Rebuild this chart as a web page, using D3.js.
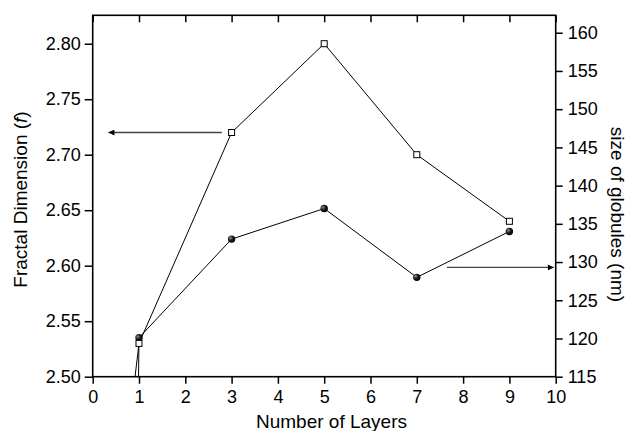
<!DOCTYPE html>
<html>
<head>
<meta charset="utf-8">
<script src="https://cdn.jsdelivr.net/npm/d3@7/dist/d3.min.js"></script>
<style>
  body { margin: 0; background: #fff; }
  text { font-family: "Liberation Sans", Arial, sans-serif; fill: #000; }
</style>
</head>
<body>
<svg width="626" height="431"></svg>
<script>
// first point of each series sits below the axis, only its clipped line shows
var fdLayers = [0.9, 1, 3, 5, 7, 9];
var fractalDim = [2.495, 2.53, 2.72, 2.80, 2.70, 2.64];
var sizeLayers = [0.98, 1, 3, 5, 7, 9];
var globuleSize = [110, 120.1, 133.0, 137.0, 128.0, 134.0];

var xTicks = [0, 1, 2, 3, 4, 5, 6, 7, 8, 9, 10];
var leftTicks = [2.50, 2.55, 2.60, 2.65, 2.70, 2.75, 2.80];
var rightTicks = [115, 120, 125, 130, 135, 140, 145, 150, 155, 160];

// arrows pointing to the axis each series belongs to
var leftArrow = {from: 2.79, to: 0.34, value: 2.72};
var rightArrow = {from: 7.65, to: 9.96, value: 129.3};

var svg = d3.select("svg");

var x = d3.scaleLinear().domain([0, 10]).range([92.7, 555.7]);
var yL = d3.scaleLinear().domain([2.50, 2.8256]).range([376.7, 15.3]);
var yR = d3.scaleLinear().domain([115, 162.28]).range([376.7, 15.3]);

var defs = svg.append("defs");
defs.append("clipPath").attr("id", "plot")
  .append("rect")
    .attr("x", x(0)).attr("y", yL.range()[1])
    .attr("width", x(10) - x(0)).attr("height", yL.range()[0] - yL.range()[1]);

defs.append("marker")
    .attr("id", "head")
    .attr("viewBox", "0 -5 10 10")
    .attr("refX", 10)
    .attr("refY", 0)
    .attr("markerWidth", 11)
    .attr("markerHeight", 6)
    .attr("markerUnits", "userSpaceOnUse")
    .attr("orient", "auto")
  .append("path")
    .attr("d", "M0,-5L10,0L0,5Z")
    .attr("fill", "#000");

var ball = defs.append("radialGradient").attr("id", "ball")
    .attr("cx", "35%").attr("cy", "35%").attr("r", "65%");
ball.append("stop").attr("offset", "0%").attr("stop-color", "#9a9a9a");
ball.append("stop").attr("offset", "45%").attr("stop-color", "#222");
ball.append("stop").attr("offset", "100%").attr("stop-color", "#000");

function minor(ticks) {
  var out = [];
  for (var i = 0; i < ticks.length - 1; i++) out.push((ticks[i] + ticks[i + 1]) / 2);
  return out;
}

// axes
var gBottom = svg.append("g").attr("transform", "translate(0," + yL.range()[0] + ")");
gBottom.call(d3.axisBottom(x).tickValues(minor(xTicks)).tickSize(4).tickFormat(""));
gBottom.call(d3.axisBottom(x).tickValues(xTicks).tickSize(7).tickPadding(7).tickFormat(d3.format("d")));

var gTop = svg.append("g").attr("transform", "translate(0," + yL.range()[1] + ")");
gTop.call(d3.axisBottom(x).tickValues(minor(xTicks)).tickSize(4).tickFormat(""));
gTop.call(d3.axisBottom(x).tickValues(xTicks).tickSize(7).tickFormat(""));

var gLeft = svg.append("g").attr("transform", "translate(" + x(0) + ",0)");
gLeft.call(d3.axisLeft(yL).tickValues(minor(leftTicks).concat([2.825])).tickSize(4).tickFormat(""));
gLeft.call(d3.axisLeft(yL).tickValues(leftTicks).tickSize(8).tickPadding(4).tickFormat(d3.format(".2f")));

var gRight = svg.append("g").attr("transform", "translate(" + x(10) + ",0)");
gRight.call(d3.axisRight(yR).tickValues(minor(rightTicks)).tickSize(5).tickFormat(""));
gRight.call(d3.axisRight(yR).tickValues(rightTicks).tickSize(7).tickPadding(5).tickFormat(d3.format("d")));

svg.selectAll(".domain").remove();
svg.selectAll(".tick line").attr("stroke", "#000").attr("stroke-width", 1.5);
svg.selectAll(".tick text").attr("font-size", 18);
svg.selectAll(".tick").attr("font-size", null).attr("font-family", null);

svg.append("rect")
    .attr("x", x(0)).attr("y", yL.range()[1])
    .attr("width", x(10) - x(0)).attr("height", yL.range()[0] - yL.range()[1])
    .attr("fill", "none").attr("stroke", "#000").attr("stroke-width", 1.6);

// series
var fdData = fdLayers.map(function(d, i) { return {x: d, y: fractalDim[i]}; });
var sizeData = sizeLayers.map(function(d, i) { return {x: d, y: globuleSize[i]}; });

var lines = svg.append("g").attr("clip-path", "url(#plot)");
lines.append("path")
    .datum(fdData)
    .attr("fill", "none").attr("stroke", "#000").attr("stroke-width", 1)
    .attr("d", d3.line().x(function(d) { return x(d.x); }).y(function(d) { return yL(d.y); }));
lines.append("path")
    .datum(sizeData)
    .attr("fill", "none").attr("stroke", "#000").attr("stroke-width", 1)
    .attr("d", d3.line().x(function(d) { return x(d.x); }).y(function(d) { return yR(d.y); }));

svg.append("g").selectAll("circle")
    .data(sizeData.filter(function(d) { return d.y >= yR.domain()[0]; }))
  .enter().append("circle")
    .attr("cx", function(d) { return x(d.x); })
    .attr("cy", function(d) { return yR(d.y); })
    .attr("r", 3.7)
    .attr("fill", "url(#ball)");

svg.append("g").selectAll("rect")
    .data(fdData.filter(function(d) { return d.y >= yL.domain()[0]; }))
  .enter().append("rect")
    .attr("x", function(d) { return x(d.x) - 3; })
    .attr("y", function(d) { return yL(d.y) - 3; })
    .attr("width", 6).attr("height", 6)
    .attr("fill", "#fff").attr("stroke", "#000").attr("stroke-width", 1);

// arrows
svg.append("line")
    .attr("x1", x(leftArrow.from)).attr("x2", x(leftArrow.to))
    .attr("y1", yL(leftArrow.value)).attr("y2", yL(leftArrow.value))
    .attr("stroke", "#444").attr("stroke-width", 1.3)
    .attr("marker-end", "url(#head)");
svg.append("line")
    .attr("x1", x(rightArrow.from)).attr("x2", x(rightArrow.to))
    .attr("y1", yR(rightArrow.value)).attr("y2", yR(rightArrow.value))
    .attr("stroke", "#444").attr("stroke-width", 1.3)
    .attr("marker-end", "url(#head)");

// titles
svg.append("text")
    .attr("x", 331.5).attr("y", 428)
    .attr("text-anchor", "middle").attr("font-size", 19)
    .text("Number of Layers");

var lt = svg.append("text")
    .attr("transform", "translate(27,199.5) rotate(-90)")
    .attr("text-anchor", "middle").attr("font-size", 19);
lt.append("tspan").text("Fractal Dimension (");
lt.append("tspan").attr("font-style", "italic").text("f");
lt.append("tspan").text(")");

svg.append("text")
    .attr("transform", "translate(610.5,214.5) rotate(90)")
    .attr("text-anchor", "middle").attr("font-size", 19)
    .text("size of globules (nm)");
</script>
</body>
</html>
